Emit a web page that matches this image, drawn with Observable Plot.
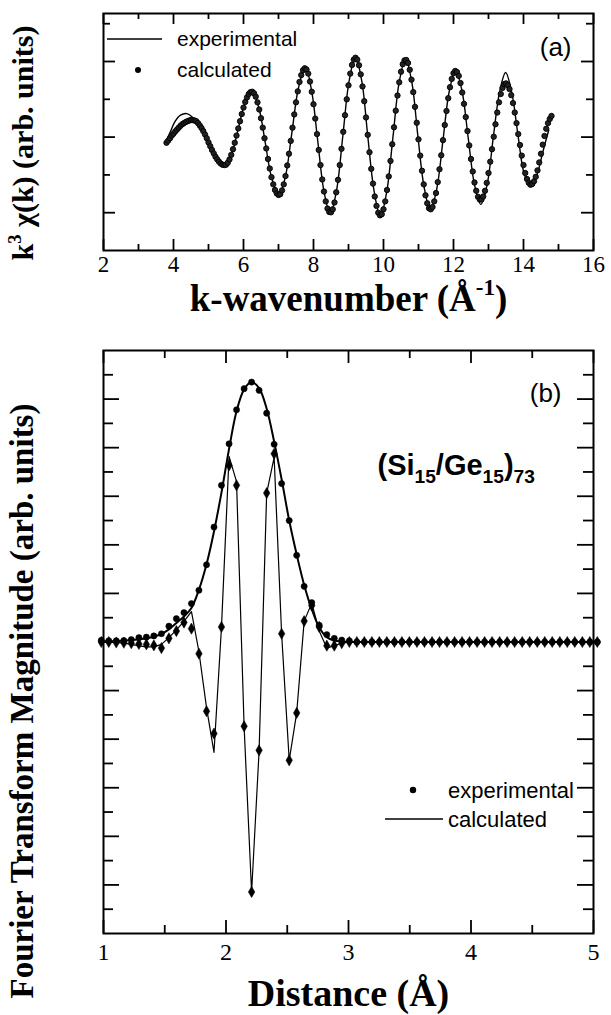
<!DOCTYPE html>
<html><head><meta charset="utf-8">
<script src="https://cdn.jsdelivr.net/npm/d3@7"></script>
<script src="https://cdn.jsdelivr.net/npm/@observablehq/plot@0.6"></script>
<style>
html,body{margin:0;padding:0;background:#fff;}
#chart{position:relative;width:611px;height:1015px;overflow:hidden;background:#fff;}
#chart svg{display:block;}
</style></head><body><div id="chart"></div>
<script>
// ---------- Panel (a): k^3 chi(k) ----------
const kTicksMajor = [2,4,6,8,10,12,14,16];
const kTicksMinor = [3,5,7,9,11,13,15];
const chiTicksMajor = [-2,0,2];
const chiTicksMinor = [-1,1,3];

// experimental (solid line), read at key points
const kLine = [3.77,3.90,4.05,4.20,4.38,4.55,4.75,5.00,5.25,5.46,5.65,5.85,6.05,6.24,6.45,6.62,6.80,7.01,7.20,7.38,7.57,7.77,7.95,8.12,8.30,8.48,8.66,8.84,9.02,9.20,9.38,9.55,9.73,9.91,10.09,10.27,10.45,10.63,10.81,10.98,11.16,11.34,11.52,11.70,11.88,12.06,12.24,12.42,12.60,12.78,12.96,13.14,13.32,13.49,13.67,13.85,14.03,14.22,14.40,14.55,14.72];
const chiExp = [-0.15,0.12,0.42,0.58,0.62,0.52,0.28,-0.16,-0.58,-0.76,-0.48,0.22,0.93,1.22,0.73,-0.14,-1.06,-1.55,-1.03,0.10,1.30,1.85,1.20,-0.09,-1.44,-2.03,-1.40,0.05,1.50,2.12,1.48,0.03,-1.42,-2.10,-1.46,0.00,1.46,2.07,1.45,0.05,-1.32,-1.93,-1.38,-0.08,1.22,1.76,1.24,-0.02,-1.26,-1.78,-1.26,0.02,1.21,1.71,1.15,0.00,-1.00,-1.30,-0.95,-0.40,0.18];

// calculated (dots)
const kDots = [3.80,3.85,3.90,3.95,
4.00,4.05,4.10,4.15,4.20,4.25,4.30,4.35,4.40,4.45,4.50,4.55,4.60,4.65,4.70,4.75,4.80,4.85,4.90,4.95,
5.00,5.05,5.10,5.15,5.20,5.25,5.30,5.35,5.40,5.45,5.50,5.55,5.60,5.65,5.70,5.75,5.80,5.85,5.90,5.95,
6.00,6.05,6.10,6.15,6.20,6.25,6.30,6.35,6.40,6.45,6.50,6.55,6.60,6.65,6.70,6.75,6.80,6.85,6.90,6.95,
7.00,7.05,7.10,7.15,7.20,7.25,7.30,7.35,7.40,7.45,7.50,7.55,7.60,7.65,7.70,7.75,7.80,7.85,7.90,7.95,
8.00,8.05,8.10,8.15,8.20,8.25,8.30,8.35,8.40,8.45,8.50,8.55,8.60,8.65,8.70,8.75,8.80,8.85,8.90,8.95,
9.00,9.05,9.10,9.15,9.20,9.25,9.30,9.35,9.40,9.45,9.50,9.55,9.60,9.65,9.70,9.75,9.80,9.85,9.90,9.95,
10.00,10.05,10.10,10.15,10.20,10.25,10.30,10.35,10.40,10.45,10.50,10.55,10.60,10.65,10.70,10.75,10.80,10.85,10.90,10.95,
11.00,11.05,11.10,11.15,11.20,11.25,11.30,11.35,11.40,11.45,11.50,11.55,11.60,11.65,11.70,11.75,11.80,11.85,11.90,11.95,
12.00,12.05,12.10,12.15,12.20,12.25,12.30,12.35,12.40,12.45,12.50,12.55,12.60,12.65,12.70,12.75,12.80,12.85,12.90,12.95,
13.00,13.05,13.10,13.15,13.20,13.25,13.30,13.35,13.40,13.45,13.50,13.55,13.60,13.65,13.70,13.75,13.80,13.85,13.90,13.95,
14.00,14.05,14.10,14.15,14.20,14.25,14.30,14.35,14.40,14.45,14.50,14.55,14.60,14.65,14.70,14.75,14.80];
const chiCalc = [-0.15,-0.09,-0.03,0.04,
0.09,0.15,0.20,0.25,0.30,0.34,0.37,0.40,0.42,0.44,0.45,0.45,0.44,0.42,0.37,0.31,0.24,0.16,0.07,-0.03,
-0.14,-0.24,-0.34,-0.43,-0.52,-0.59,-0.65,-0.70,-0.73,-0.74,-0.73,-0.68,-0.59,-0.47,-0.32,-0.15,0.04,0.23,0.42,0.61,
0.78,0.93,1.05,1.14,1.19,1.20,1.16,1.07,0.92,0.73,0.50,0.25,-0.03,-0.30,-0.58,-0.83,-1.06,-1.25,-1.40,-1.49,
-1.53,-1.51,-1.41,-1.25,-1.03,-0.75,-0.44,-0.10,0.25,0.60,0.92,1.21,1.46,1.64,1.77,1.82,1.79,1.68,1.47,1.20,
0.87,0.49,0.08,-0.34,-0.74,-1.12,-1.44,-1.70,-1.89,-1.98,-1.99,-1.91,-1.73,-1.46,-1.13,-0.74,-0.31,0.14,0.58,1.00,
1.37,1.68,1.91,2.05,2.10,2.05,1.90,1.66,1.34,0.95,0.52,0.06,-0.40,-0.84,-1.23,-1.57,-1.82,-2.00,-2.07,-2.04,
-1.91,-1.70,-1.40,-1.04,-0.63,-0.19,0.26,0.70,1.10,1.45,1.73,1.93,2.03,2.04,1.96,1.78,1.52,1.19,0.80,0.38,
-0.06,-0.49,-0.89,-1.25,-1.54,-1.75,-1.88,-1.91,-1.85,-1.70,-1.48,-1.19,-0.85,-0.48,-0.08,0.32,0.69,1.03,1.32,1.54,
1.69,1.75,1.72,1.62,1.43,1.18,0.88,0.53,0.16,-0.22,-0.58,-0.91,-1.20,-1.42,-1.58,-1.65,-1.65,-1.57,-1.42,-1.21,
-0.95,-0.65,-0.32,0.01,0.34,0.65,0.92,1.14,1.30,1.40,1.42,1.37,1.27,1.11,0.90,0.65,0.37,0.08,-0.21,-0.49,
-0.74,-0.95,-1.11,-1.21,-1.26,-1.24,-1.17,-1.05,-0.88,-0.67,-0.44,-0.20,0.03,0.22,0.37,0.48,0.56];

// ---------- Panel (b): Fourier transform ----------
const rTicksMajor = [1,2,3,4,5];
const rTicksMinor = [1.5,2.5,3.5,4.5];
const ftTicksMajor = [-10,-8,-6,-4,-2,0,2,4,6,8,10];
const ftTicksMinor = [-11,-9,-7,-5,-3,-1,1,3,5,7,9,11];

const rGrid = [0.982,1.043,1.104,1.166,1.227,1.289,1.350,1.411,1.473,1.534,1.595,1.657,1.718,1.779,1.841,1.902,1.963,2.025,2.086,2.148,2.209,2.270,2.332,2.393,2.454,2.516,2.577,2.638,2.700,2.761,2.823,2.884,2.945,3.007,3.068,3.129,3.191,3.252,3.313,3.375,3.436,3.497,3.559,3.620,3.682,3.743,3.804,3.866,3.927,3.988,4.050,4.111,4.172,4.234,4.295,4.356,4.418,4.479,4.541,4.602,4.663,4.725,4.786,4.847,4.909,4.970,5.031];
// experimental magnitude (dots)
const magExp = [0.07,0.05,0.05,0.06,0.10,0.18,0.20,0.25,0.34,0.65,0.96,1.21,1.58,2.13,3.18,4.73,6.45,8.16,9.56,10.43,10.70,10.36,9.42,8.14,6.52,5.00,3.57,2.29,1.62,0.69,0.30,0.15,0.08,0.05,0,0,0,0,0,0,0,0,0,0,0,0,0,0,0,0,0,0,0,0,0,0,0,0,0,0,0,0,0,0,0,0,0];
// experimental imaginary part (diamonds)
const imExp = [0,0,-0.02,-0.03,-0.05,-0.08,-0.10,-0.14,-0.25,0.15,0.45,0.80,0.55,-0.48,-2.85,-3.77,0.62,7.27,6.45,-3.47,-10.29,-4.46,6.13,7.75,0.34,-4.87,-2.92,0.86,1.50,0.62,-0.15,-0.15,-0.05,0,0,0,0,0,0,0,0,0,0,0,0,0,0,0,0,0,0,0,0,0,0,0,0,0,0,0,0,0,0,0,0,0,0];
// calculated magnitude (line)
const magCalc = [0.02,0.03,0.04,0.06,0.08,0.11,0.15,0.22,0.33,0.52,0.78,1.05,1.40,2.15,3.20,4.55,6.15,7.95,9.50,10.40,10.70,10.45,9.60,8.25,6.70,5.00,3.60,2.35,1.35,0.60,0.20,0.06,0.02,0,0,0,0,0,0,0,0,0,0,0,0,0,0,0,0,0,0,0,0,0,0,0,0,0,0,0,0,0,0,0,0,0,0];
// calculated imaginary part (line)
const imCalc = [0,0,-0.02,-0.05,-0.10,-0.16,-0.20,-0.20,-0.10,0.18,0.50,0.85,1.25,-0.40,-2.70,-4.54,0.60,7.64,6.60,-3.50,-10.30,-4.50,6.13,7.60,0.34,-4.87,-2.92,0.86,1.60,0.45,-0.25,-0.15,-0.05,0,0,0,0,0,0,0,0,0,0,0,0,0,0,0,0,0,0,0,0,0,0,0,0,0,0,0,0,0,0,0,0,0,0];

const legendA = [{label: "experimental", kind: "line"}, {label: "calculated", kind: "dot"}];
const legendB = [{label: "experimental", kind: "dot"}, {label: "calculated", kind: "line"}];

// ---------- rendering ----------
const SERIF = "'Liberation Serif','Times New Roman',Times,serif";
const SANS = "'Liberation Sans',Arial,Helvetica,sans-serif";
const W = 611;

const expLineData = kLine.map((k, i) => ({k, v: chiExp[i]}));
const calcDotData = kDots.map((k, i) => ({k, v: chiCalc[i]}));
const ftData = rGrid.map((r, i) => ({r, magExp: magExp[i], imExp: imExp[i], magCalc: magCalc[i], imCalc: imCalc[i]}));

function frameTicks(fw, fh, xMaj, xMin, yMaj, yMin, Lx, lx, Ly, ly) {
  const s = {stroke: "black", strokeWidth: 1.8};
  return [
    Plot.tickX(xMaj, {x: d => d, insetTop: fh - Lx, ...s}),
    Plot.tickX(xMaj, {x: d => d, insetBottom: fh - Lx, ...s}),
    Plot.tickX(xMin, {x: d => d, insetTop: fh - lx, ...s}),
    Plot.tickX(xMin, {x: d => d, insetBottom: fh - lx, ...s}),
    Plot.tickY(yMaj, {y: d => d, insetRight: fw - Ly, ...s}),
    Plot.tickY(yMaj, {y: d => d, insetLeft: fw - Ly, ...s}),
    Plot.tickY(yMin, {y: d => d, insetRight: fw - ly, ...s}),
    Plot.tickY(yMin, {y: d => d, insetLeft: fw - ly, ...s})
  ];
}

// Panel (a)
const aH = 330, aML = 103, aMR = 18, aMT = 13, aMB = 80;
const aFW = W - aML - aMR, aFH = aH - aMT - aMB;
const plotA = Plot.plot({
  width: W, height: aH,
  marginLeft: aML, marginRight: aMR, marginTop: aMT, marginBottom: aMB,
  x: {domain: [2, 16], axis: null},
  y: {domain: [-3, 3.27], axis: null},
  style: {background: "white", overflow: "visible"},
  marks: [
    Plot.line(expLineData, {x: "k", y: "v", curve: "catmull-rom", stroke: "black", strokeWidth: 1.4}),
    Plot.dot(calcDotData, {x: "k", y: "v", r: 2.7, fill: "#222", stroke: "black", strokeWidth: 0.9}),
    ...frameTicks(aFW, aFH, kTicksMajor, kTicksMinor, chiTicksMajor, chiTicksMinor, 11, 6, 12, 7),
    Plot.frame({stroke: "black", strokeWidth: 2}),
    Plot.text(kTicksMajor, {x: d => d, text: d => String(d), frameAnchor: "bottom", lineAnchor: "top", dy: 5, fontSize: 23, fontFamily: SERIF, fill: "black"}),
    Plot.text(["k-wavenumber (Å-1)"], {text: d => d, frameAnchor: "bottom", textAnchor: "middle", lineAnchor: "bottom", dy: 60, fontSize: 37, fontWeight: "bold", fontFamily: SERIF, fill: "black"}),
    Plot.text(["k3 χ(k) (arb. units)"], {text: d => d, frameAnchor: "left", textAnchor: "middle", lineAnchor: "middle", rotate: -90, dx: -80, dy: 11, fontSize: 30, fontWeight: "bold", fontFamily: SERIF, fill: "black"}),
    Plot.text(["(a)"], {text: d => d, frameAnchor: "top-right", textAnchor: "end", lineAnchor: "middle", dx: -22, dy: 34, fontSize: 26, fontFamily: SANS, fill: "black"})
  ]
});

// Panel (b)
const bH = 685, bML = 103, bMR = 18, bMT = 20, bMB = 82;
const bFW = W - bML - bMR, bFH = bH - bMT - bMB;
const plotB = Plot.plot({
  width: W, height: bH,
  marginLeft: bML, marginRight: bMR, marginTop: bMT, marginBottom: bMB,
  x: {domain: [1, 5], axis: null},
  y: {domain: [-12, 12], axis: null},
  style: {background: "white", overflow: "visible"},
  marks: [
    Plot.line(ftData, {x: "r", y: "imCalc", stroke: "black", strokeWidth: 1.2}),
    Plot.line(ftData, {x: "r", y: "magCalc", curve: "catmull-rom", stroke: "black", strokeWidth: 2}),
    Plot.dot(ftData, {x: "r", y: "magExp", r: 3.1, fill: "black", stroke: "black", strokeWidth: 0.5}),
    Plot.dot(ftData, {x: "r", y: "imExp", r: 3.4, symbol: "diamond", fill: "black", stroke: "black", strokeWidth: 0.5}),
    ...frameTicks(bFW, bFH, rTicksMajor, rTicksMinor, ftTicksMajor, ftTicksMinor, 13, 8, 16, 10),
    Plot.frame({stroke: "black", strokeWidth: 2}),
    Plot.text(rTicksMajor, {x: d => d, text: d => String(d), frameAnchor: "bottom", lineAnchor: "top", dy: 9, fontSize: 24, fontFamily: SERIF, fill: "black"}),
    Plot.text(["Distance (Å)"], {text: d => d, frameAnchor: "bottom", textAnchor: "middle", lineAnchor: "bottom", dy: 72, fontSize: 38, fontWeight: "bold", fontFamily: SERIF, fill: "black"}),
    Plot.text(["Fourier Transform Magnitude (arb. units)"], {text: d => d, frameAnchor: "left", textAnchor: "middle", lineAnchor: "middle", rotate: -90, dx: -81, dy: 59, fontSize: 33, fontWeight: "bold", fontFamily: SERIF, fill: "black"}),
    Plot.text(["(b)"], {text: d => d, frameAnchor: "top-right", textAnchor: "end", lineAnchor: "middle", dx: -32, dy: 43, fontSize: 26, fontFamily: SANS, fill: "black"}),
    Plot.text(["(Si15/Ge15)73"], {text: d => d, frameAnchor: "top-left", textAnchor: "start", lineAnchor: "middle", dx: 274, dy: 115, fontSize: 29, fontWeight: "bold", fontFamily: SANS, fill: "black"})
  ]
});

const chart = document.getElementById("chart");
chart.appendChild(plotA);
chart.appendChild(plotB);

// rich text: superscripts / subscripts as tspans
function richText(svg, match, parts, fs) {
  d3.select(svg).selectAll("text").filter(function () { return this.textContent === match; }).each(function () {
    const t = d3.select(this);
    t.text(null);
    let shift = 0;
    for (const [s, kind] of parts) {
      const ts = t.append("tspan").text(s);
      let target = 0;
      if (kind === "sup") { ts.attr("font-size", fs * 0.62); target = -fs * 0.42; }
      if (kind === "sub") { ts.attr("font-size", fs * 0.66); target = fs * 0.28; }
      if (target !== shift) { ts.attr("dy", target - shift); shift = target; }
    }
  });
}
richText(plotA, "k-wavenumber (Å-1)", [["k-wavenumber (Å", ""], ["-1", "sup"], [")", ""]], 37);
richText(plotA, "k3 χ(k) (arb. units)", [["k", ""], ["3", "sup"], [" χ(k) (arb. units)", ""]], 30);
richText(plotB, "(Si15/Ge15)73", [["(Si", ""], ["15", "sub"], ["/Ge", ""], ["15", "sub"], [")", ""], ["73", "sub"]], 29);

// legends
function drawLegend(svg, items, x0, y0, gap, opts) {
  const g = d3.select(svg).append("g").attr("font-family", SANS).attr("font-size", opts.fs).attr("text-anchor", "start");
  items.forEach((it, i) => {
    const y = y0 + i * gap;
    if (it.kind === "line") {
      g.append("line").attr("x1", opts.lineX1).attr("x2", opts.lineX2).attr("y1", y).attr("y2", y).attr("stroke", "black").attr("stroke-width", 1.4);
    } else {
      g.append("circle").attr("cx", opts.dotX).attr("cy", y).attr("r", opts.r).attr("fill", "black");
    }
    g.append("text").attr("x", x0).attr("y", y).attr("dy", "0.35em").attr("text-anchor", "start").attr("fill", "black").text(it.label);
  });
}
drawLegend(plotA, legendA, 177, 39, 31, {fs: 21, lineX1: 107, lineX2: 162, dotX: 138, r: 3});
drawLegend(plotB, legendB, 448, 460, 29, {fs: 22, lineX1: 385, lineX2: 443, dotX: 413, r: 3.2});
</script></body></html>
